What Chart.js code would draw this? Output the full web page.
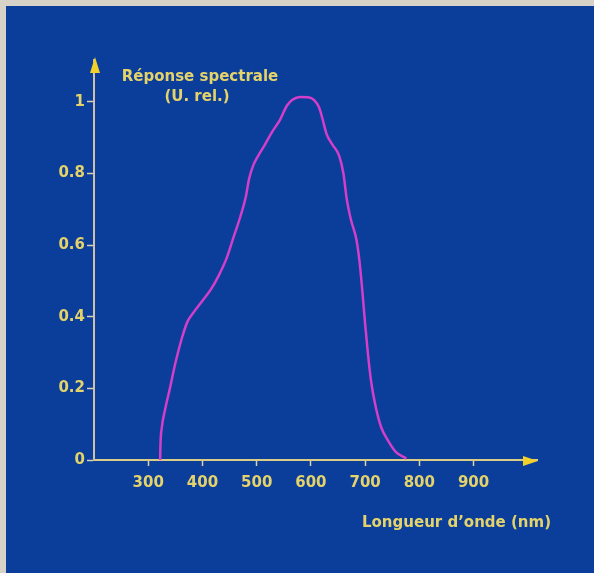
<!DOCTYPE html>
<html>
<head>
<meta charset="utf-8">
<script src="https://cdn.jsdelivr.net/npm/chart.js@4/dist/chart.umd.min.js"></script>
<style>
  html, body { margin: 0; padding: 0; background: #d6d2c8; }
  #wrap { position: relative; width: 594px; height: 573px; }
</style>
</head>
<body>
<div id="wrap"><canvas id="c" width="594" height="573"></canvas></div>
<script>
// Data
const wavelength = [322, 322.5, 325, 331, 340, 350, 362, 372, 385, 400, 415, 430, 445, 458, 470, 480, 486, 493, 503, 515, 528, 543, 556, 566, 580, 595, 606, 615, 621, 629, 640, 652, 660, 666, 674, 684, 690, 695, 700, 705, 711, 720, 730, 742, 757, 776];
const response   = [0.0, 0.04, 0.09, 0.14, 0.2, 0.27, 0.34, 0.385, 0.415, 0.445, 0.475, 0.515, 0.565, 0.625, 0.68, 0.735, 0.785, 0.82, 0.85, 0.88, 0.915, 0.95, 0.99, 1.006, 1.014, 1.013, 1.005, 0.985, 0.955, 0.91, 0.88, 0.85, 0.80, 0.73, 0.67, 0.615, 0.55, 0.47, 0.38, 0.30, 0.22, 0.145, 0.09, 0.055, 0.022, 0.004];
const xTickValues = [300, 400, 500, 600, 700, 800, 900];
const yTickValues = [0, 0.2, 0.4, 0.6, 0.8, 1];
const yTitleLines = ['Réponse spectrale', '(U. rel.)'];
const xTitle = 'Longueur d’onde (nm)';

const BLUE = 'rgb(11,61,155)';
const YELLOW = '#e4d36a';
const AXIS_Y = '#cdbfa8';
const AXIS_X = '#d9cc86';
const ARROW = '#f2d22a';
const FONT = 'DejaVu Sans';

const points = wavelength.map((w, i) => ({ x: w, y: response[i] }));

const deco = {
  id: 'deco',
  beforeDraw(chart) {
    const ctx = chart.ctx;
    ctx.save();
    ctx.fillStyle = '#d6d2c8';
    ctx.fillRect(0, 0, chart.width, chart.height);
    ctx.fillStyle = BLUE;
    ctx.fillRect(6, 6, chart.width - 6, chart.height - 6);
    ctx.restore();
  },
  afterDraw(chart) {
    const ctx = chart.ctx;
    const a = chart.chartArea;
    ctx.save();
    // arrowheads
    ctx.fillStyle = ARROW;
    ctx.beginPath();
    ctx.moveTo(a.left + 1, a.top - 3);
    ctx.lineTo(a.left - 4, a.top + 13);
    ctx.lineTo(a.left + 6, a.top + 13);
    ctx.closePath();
    ctx.fill();
    ctx.beginPath();
    ctx.moveTo(a.right + 1, a.bottom + 1);
    ctx.lineTo(a.right - 14, a.bottom - 4);
    ctx.lineTo(a.right - 14, a.bottom + 6);
    ctx.closePath();
    ctx.fill();
    // titles
    ctx.fillStyle = YELLOW;
    ctx.font = 'bold 15px "' + FONT + '"';
    ctx.textBaseline = 'middle';
    ctx.textAlign = 'center';
    ctx.fillText(yTitleLines[0], a.left + 106, a.top + 17);
    ctx.fillText(yTitleLines[1], a.left + 103, a.top + 37);
    ctx.textAlign = 'left';
    ctx.fillText(xTitle, a.left + 268, a.bottom + 63);
    ctx.restore();
  }
};

new Chart(document.getElementById('c'), {
  type: 'scatter',
  data: {
    datasets: [{
      data: points,
      showLine: true,
      borderColor: '#d43ec8',
      borderWidth: 2.5,
      pointRadius: 0,
      cubicInterpolationMode: 'monotone',
      fill: false
    }]
  },
  options: {
    responsive: false,
    animation: false,
    devicePixelRatio: 1,
    layout: { padding: { top: 60, right: 57, left: 0, bottom: 0 } },
    plugins: { legend: { display: false }, tooltip: { enabled: false } },
    scales: {
      x: {
        type: 'linear',
        min: 200,
        max: 1017,
        afterBuildTicks(scale) { scale.ticks = xTickValues.map(v => ({ value: v })); },
        afterFit(scale) { scale.height = 113; },
        grid: { display: true, drawOnChartArea: false, drawTicks: true, tickLength: 6, tickColor: '#d8d0b0', tickWidth: 1.5 },
        border: { display: true, color: AXIS_X, width: 2 },
        ticks: { color: YELLOW, font: { family: FONT, size: 15, weight: 'bold' }, padding: 8, maxRotation: 0, autoSkip: false }
      },
      y: {
        type: 'linear',
        min: 0,
        max: 1.117,
        afterBuildTicks(scale) { scale.ticks = yTickValues.map(v => ({ value: v })); },
        afterFit(scale) { scale.width = 94; },
        grid: { display: true, drawOnChartArea: false, drawTicks: true, tickLength: 7, tickColor: '#d8d0b0', tickWidth: 1.5 },
        border: { display: true, color: AXIS_Y, width: 2 },
        ticks: { color: YELLOW, font: { family: FONT, size: 15, weight: 'bold' }, padding: 2, autoSkip: false,
                 callback: (v) => String(v) }
      }
    }
  },
  plugins: [deco]
});
</script>
</body>
</html>
